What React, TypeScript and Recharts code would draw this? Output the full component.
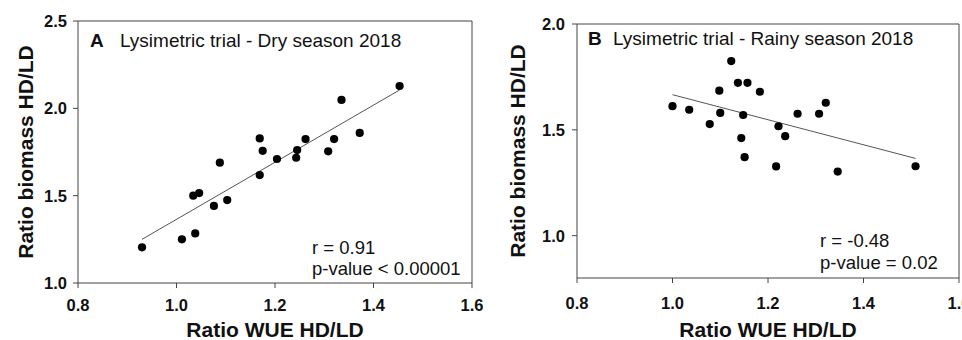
import React from "react";
import { Customized, Label, ReferenceLine, Scatter, ScatterChart, XAxis, YAxis } from "recharts";

// dry season 2018 (panel A)
const dryX = [0.93, 1.011, 1.038, 1.034, 1.046, 1.076, 1.103, 1.088, 1.169, 1.169, 1.175, 1.204, 1.243, 1.245, 1.262, 1.308, 1.32, 1.335, 1.372, 1.453];
const dryY = [1.204, 1.25, 1.284, 1.5, 1.515, 1.441, 1.475, 1.689, 1.618, 1.828, 1.757, 1.71, 1.717, 1.761, 1.824, 1.754, 1.824, 2.048, 1.859, 2.128];
const dryFitX = [0.93, 1.453];
const dryFitY = [1.25, 2.105];

// rainy season 2018 (panel B)
const rainyX = [1.0, 1.035, 1.078, 1.098, 1.1, 1.123, 1.137, 1.157, 1.148, 1.144, 1.151, 1.183, 1.217, 1.222, 1.236, 1.262, 1.307, 1.321, 1.346, 1.509];
const rainyY = [1.612, 1.595, 1.527, 1.685, 1.58, 1.825, 1.722, 1.722, 1.57, 1.461, 1.371, 1.68, 1.327, 1.517, 1.47, 1.576, 1.576, 1.628, 1.303, 1.328];
const rainyFitX = [1.0, 1.509];
const rainyFitY = [1.666, 1.365];

const xTicks = [0.8, 1.0, 1.2, 1.4, 1.6];
const dryYTicks = [1.0, 1.5, 2.0, 2.5];
const rainyYTicks = [1.0, 1.5, 2.0];

const FONT = "'Liberation Sans', Arial, sans-serif";
const AXIS = "#444";
const INK = "#111";

type PanelProps = {
  width: number;
  xs: number[];
  ys: number[];
  fitX: number[];
  fitY: number[];
  yDomain: [number, number];
  yTicks: number[];
  margin: { top: number; right: number };
  plotRight: number;
  yAxisWidth: number;
  xAxisHeight: number;
  yTickGap: number;
  xTickY: number;
  yTitleX: number;
  letter: string;
  letterX: number;
  titleX: number;
  titleY: number;
  stats: string[];
  statsX: number;
  statsY: number[];
};

const Dot = (props: any) => <circle cx={props.cx} cy={props.cy} r={4.1} fill="#000" />;

const tickStyle = { fontFamily: FONT, fontSize: 16.5, fontWeight: 700, fill: INK };

const Panel = (p: PanelProps) => {
  const height = 340;
  const data = p.xs.map((x, i) => ({ x, y: p.ys[i] }));
  const plotMidY = (p.margin.top + height - p.xAxisHeight) / 2;
  const plotMidX = (p.yAxisWidth + p.plotRight) / 2;

  const XTick = (t: any) => (
    <text x={t.x} y={p.xTickY} textAnchor="middle" dominantBaseline="central" {...tickStyle}>
      {Number(t.payload.value).toFixed(1)}
    </text>
  );
  const YTick = (t: any) => (
    <text x={p.yAxisWidth - p.yTickGap} y={t.y} textAnchor="end" dominantBaseline="central" {...tickStyle}>
      {Number(t.payload.value).toFixed(1)}
    </text>
  );

  return (
    <ScatterChart
      width={p.width}
      height={height}
      margin={{ top: p.margin.top, right: p.margin.right, bottom: 0, left: 0 }}
      style={{ overflow: "visible" }}
    >
      <XAxis
        type="number"
        dataKey="x"
        domain={[0.8, 1.6]}
        ticks={xTicks}
        interval={0}
        tick={XTick}
        tickSize={5}
        stroke={AXIS}
        height={p.xAxisHeight}
      >
        <Label
          content={() => (
            <text x={plotMidX} y={337} textAnchor="middle" fontFamily={FONT} fontSize={21} fontWeight={700} fill={INK}>
              Ratio WUE HD/LD
            </text>
          )}
        />
      </XAxis>
      <YAxis
        type="number"
        dataKey="y"
        domain={p.yDomain}
        ticks={p.yTicks}
        interval={0}
        tick={YTick}
        tickSize={5}
        stroke={AXIS}
        width={p.yAxisWidth}
      >
        <Label
          content={() => (
            <text
              x={p.yTitleX}
              y={plotMidY}
              transform={`rotate(-90 ${p.yTitleX} ${plotMidY})`}
              textAnchor="middle"
              dominantBaseline="central"
              fontFamily={FONT}
              fontSize={21}
              fontWeight={700}
              fill={INK}
            >
              Ratio biomass HD/LD
            </text>
          )}
        />
      </YAxis>
      <ReferenceLine y={p.yDomain[1]} stroke={AXIS} strokeWidth={1} />
      <ReferenceLine x={1.6} stroke={AXIS} strokeWidth={1} />
      <ReferenceLine
        segment={[
          { x: p.fitX[0], y: p.fitY[0] },
          { x: p.fitX[1], y: p.fitY[1] },
        ]}
        stroke="#555"
        strokeWidth={1}
      />
      <Scatter data={data} shape={Dot} isAnimationActive={false} />
      <Customized
        component={() => (
          <g fontFamily={FONT} fill={INK}>
            <text x={p.letterX} y={p.titleY} fontSize={19} fontWeight={700}>
              {p.letter}
            </text>
            <text x={p.titleX} y={p.titleY} fontSize={19}>
              {"Lysimetric trial - " + (p.letter === "A" ? "Dry" : "Rainy") + " season 2018"}
            </text>
            {p.stats.map((s, i) => (
              <text key={s} x={p.statsX} y={p.statsY[i]} fontSize={18.5}>
                {s}
              </text>
            ))}
          </g>
        )}
      />
    </ScatterChart>
  );
};

export default function App() {
  return (
    <div style={{ position: "absolute", left: 0, top: 0, width: 962, height: 340, overflow: "hidden", background: "#fff" }}>
      <div style={{ position: "absolute", left: 0, top: 0 }}>
        <Panel
          width={490}
          xs={dryX}
          ys={dryY}
          fitX={dryFitX}
          fitY={dryFitY}
          yDomain={[1.0, 2.5]}
          yTicks={dryYTicks}
          margin={{ top: 21, right: 18 }}
          plotRight={472}
          yAxisWidth={78}
          xAxisHeight={57}
          yTickGap={11}
          xTickY={305}
          yTitleX={25}
          letter="A"
          letterX={90}
          titleX={120}
          titleY={47}
          stats={["r = 0.91", "p-value < 0.00001"]}
          statsX={312}
          statsY={[254, 275]}
        />
      </div>
      <div style={{ position: "absolute", left: 480, top: 0 }}>
        <Panel
          width={487}
          xs={rainyX}
          ys={rainyY}
          fitX={rainyFitX}
          fitY={rainyFitY}
          yDomain={[0.8, 2.0]}
          yTicks={rainyYTicks}
          margin={{ top: 24, right: 8 }}
          plotRight={479}
          yAxisWidth={97}
          xAxisHeight={62}
          yTickGap={12}
          xTickY={303}
          yTitleX={37}
          letter="B"
          letterX={108}
          titleX={133}
          titleY={45}
          stats={["r = -0.48", "p-value = 0.02"]}
          statsX={340}
          statsY={[247, 269]}
        />
      </div>
    </div>
  );
}
